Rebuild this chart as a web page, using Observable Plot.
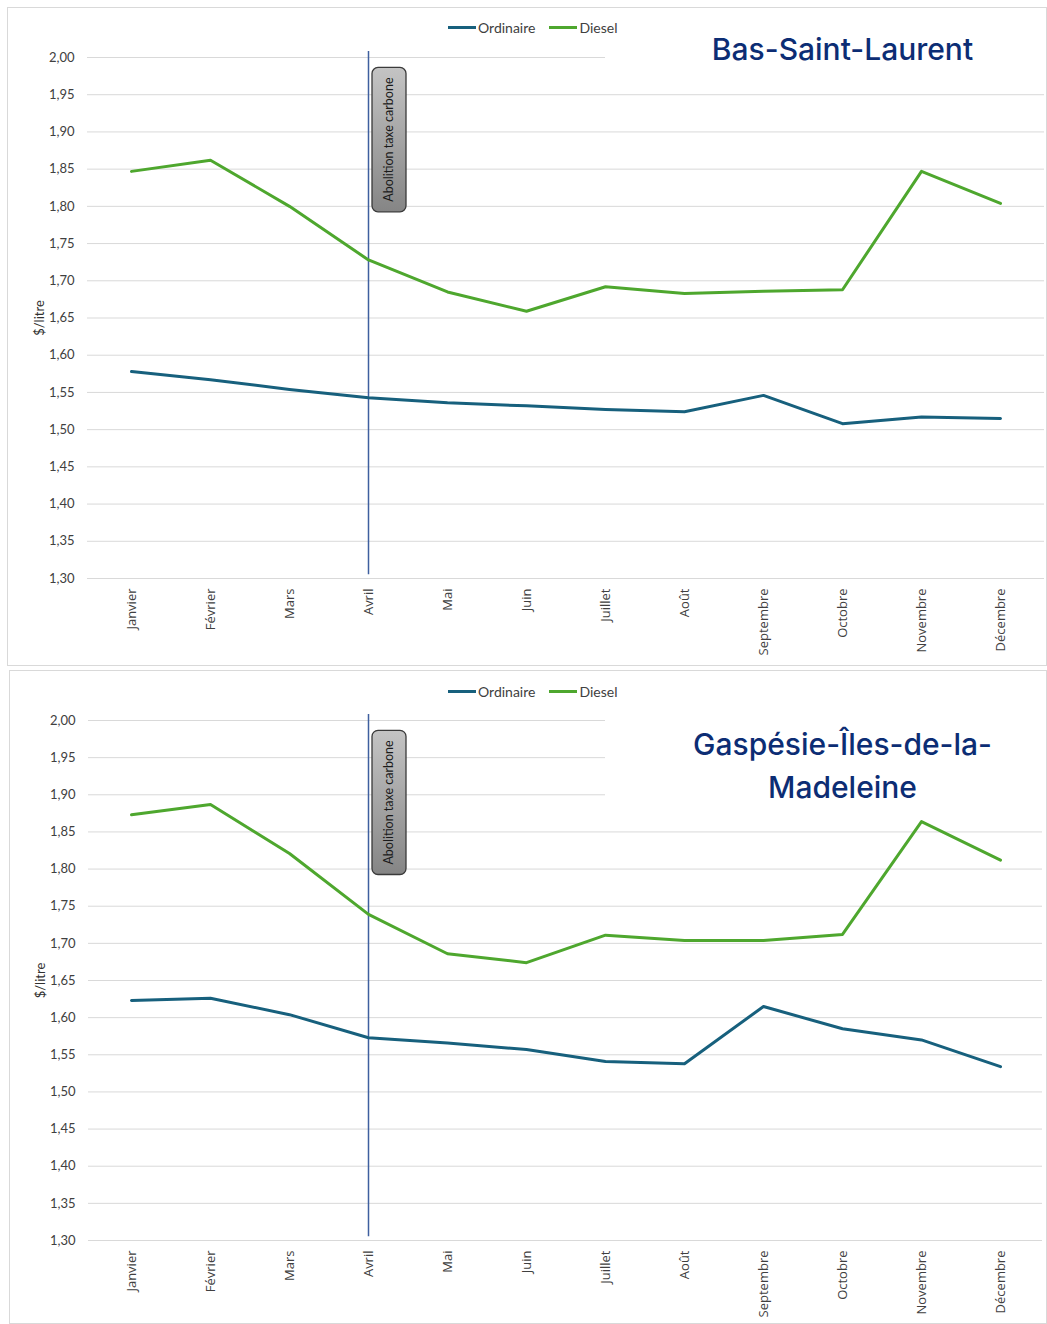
<!DOCTYPE html>
<html>
<head>
<meta charset="utf-8">
<script src="https://cdn.jsdelivr.net/npm/d3@7"></script>
<script src="https://cdn.jsdelivr.net/npm/@observablehq/plot@0.6"></script>
<style>
  html, body { margin: 0; padding: 0; background: #fff; }
  body { width: 1047px; height: 1324px; position: relative; overflow: hidden; font-family: Lato, "Liberation Sans", sans-serif; }
  .panel { position: absolute; border: 1px solid #d9d9d9; box-sizing: border-box; background: #fff; }
  .panel svg { position: absolute; left: 0; top: 0; }
  .title { position: absolute; background: #fff; color: #0c2d74; font-family: Inter, "Noto Sans", sans-serif; font-weight: 500; font-size: 30px; text-align: center; line-height: 43px; box-sizing: content-box; }
  .legend { position: absolute; display: flex; align-items: center; font-family: Lato, sans-serif; font-size: 14px; color: #404040; z-index: 2; }
  .legend .sw { display: inline-block; width: 28px; height: 3px; margin-right: 2px; }
  .legend .item { display: flex; align-items: center; margin-right: 14px; }
</style>
</head>
<body>
<div id="p1" class="panel" style="left:7px;top:7px;width:1040px;height:659px;"></div>
<div id="p2" class="panel" style="left:9px;top:670px;width:1038px;height:654px;"></div>
<script>
const months = ["Janvier","Février","Mars","Avril","Mai","Juin","Juillet","Août","Septembre","Octobre","Novembre","Décembre"];
const seriesNames = ["Ordinaire", "Diesel"];
const seriesColors = ["#17607d", "#4ea72e"];
const yTicks = [1.30,1.35,1.40,1.45,1.50,1.55,1.60,1.65,1.70,1.75,1.80,1.85,1.90,1.95,2.00];
const yDomain = [1.30, 2.00];
const yLabel = "$/litre";

const bslOrdinaire = [1.578,1.567,1.554,1.543,1.536,1.532,1.527,1.524,1.546,1.508,1.517,1.515];
const bslDiesel    = [1.847,1.862,1.800,1.728,1.685,1.659,1.692,1.683,1.686,1.688,1.847,1.804];
const gimOrdinaire = [1.623,1.626,1.604,1.573,1.566,1.557,1.541,1.538,1.615,1.585,1.570,1.534];
const gimDiesel    = [1.873,1.887,1.821,1.739,1.686,1.674,1.711,1.704,1.704,1.712,1.864,1.812];

const eventMonth = "Avril";
const eventLabel = "Abolition taxe carbone";
const eventRuleRange = [2.008, 1.305];
const eventBoxRange = [1.986, 1.792];

const fmt = d => d3.format(".2f")(d).replace(".", ",");

function drawPanel(el, cfg) {
  const data = [];
  months.forEach((m, i) => {
    data.push({month: m, series: seriesNames[0], value: cfg.ordinaire[i]});
    data.push({month: m, series: seriesNames[1], value: cfg.diesel[i]});
  });
  const gid = "grad-" + el.id;
  const boxMark = (index, scales) => {
    const x = scales.x(eventMonth);
    const y1 = scales.y(eventBoxRange[0]);
    const y2 = scales.y(eventBoxRange[1]);
    const g = d3.create("svg:g");
    const defs = g.append("defs");
    const lg = defs.append("linearGradient").attr("id", gid).attr("x1", 0).attr("y1", 0).attr("x2", 0).attr("y2", 1);
    lg.append("stop").attr("offset", "0%").attr("stop-color", "#c4c4c4");
    lg.append("stop").attr("offset", "100%").attr("stop-color", "#858585");
    g.append("rect").attr("x", x + 4).attr("y", y1).attr("width", 34).attr("height", y2 - y1)
      .attr("rx", 6).attr("ry", 6).attr("fill", `url(#${gid})`).attr("stroke", "#3a3a3a").attr("stroke-width", 1.3);
    g.append("text").attr("transform", `translate(${x + 21},${(y1 + y2) / 2}) rotate(-90)`)
      .attr("text-anchor", "middle").attr("dy", "0.35em")
      .attr("font-family", "Lato, sans-serif").attr("font-size", 12.5).attr("fill", "#1a1a1a")
      .text(eventLabel);
    return g.node();
  };
  const plot = Plot.plot({
    width: cfg.width,
    height: cfg.height,
    marginLeft: cfg.ml,
    marginRight: cfg.mr,
    marginTop: cfg.mt,
    marginBottom: cfg.mb,
    style: {fontFamily: "Lato, sans-serif", fontSize: "13px", color: "#404040", background: "transparent", overflow: "visible"},
    x: {domain: months, type: "point", padding: 0.5},
    y: {domain: yDomain},
    color: {domain: seriesNames, range: seriesColors},
    marks: [
      Plot.gridY(yTicks, {stroke: "#d9d9d9", strokeOpacity: 1, strokeWidth: 1}),
      Plot.axisY(yTicks, {tickSize: 0, tickPadding: 13, tickFormat: fmt, label: null, fontSize: 13}),
      Plot.text([yLabel], {frameAnchor: "left", textAnchor: "middle", rotate: -90, dx: -cfg.labelOffset, fontSize: 13, fill: "#303030"}),
      Plot.axisX({tickRotate: -90, tickSize: 0, tickPadding: 10, label: null, fontFamily: "Open Sans, sans-serif", fontSize: 13}),
      Plot.ruleX([eventMonth], {y1: eventRuleRange[0], y2: eventRuleRange[1], stroke: "#3f5f9f", strokeWidth: 1.5}),
      Plot.line(data, {x: "month", y: "value", z: "series", stroke: "series", strokeWidth: 3}),
      boxMark
    ]
  });
  el.appendChild(plot);

  const leg = document.createElement("div");
  leg.className = "legend";
  leg.style.left = cfg.legendLeft + "px";
  leg.style.top = cfg.legendTop + "px";
  seriesNames.forEach((n, i) => {
    const it = document.createElement("div");
    it.className = "item";
    const sw = document.createElement("span");
    sw.className = "sw";
    sw.style.background = seriesColors[i];
    it.appendChild(sw);
    const t = document.createElement("span");
    t.textContent = n;
    it.appendChild(t);
    leg.appendChild(it);
  });
  el.appendChild(leg);

  const title = document.createElement("div");
  title.className = "title";
  title.style.left = cfg.titleLeft + "px";
  title.style.right = "2px";
  title.style.top = cfg.titleTop + "px";
  title.style.paddingTop = cfg.titlePad + "px";
  title.style.paddingLeft = "36px";
  title.style.height = cfg.titleHeight + "px";
  title.innerHTML = cfg.title;
  el.appendChild(title);
}

drawPanel(document.getElementById("p1"), {
  ordinaire: bslOrdinaire, diesel: bslDiesel,
  width: 1038, height: 657, ml: 79, mr: 2, mt: 49, mb: 87, labelOffset: 48,
  legendLeft: 440, legendTop: 11,
  title: "Bas-Saint-Laurent", titleLeft: 597, titleTop: 20, titlePad: 0, titleHeight: 43
});
drawPanel(document.getElementById("p2"), {
  ordinaire: gimOrdinaire, diesel: gimDiesel,
  width: 1036, height: 652, ml: 78, mr: 4, mt: 49, mb: 83, labelOffset: 48,
  legendLeft: 438, legendTop: 12,
  title: "Gaspésie-Îles-de-la-<br>Madeleine", titleLeft: 595, titleTop: 44, titlePad: 8, titleHeight: 86
});
</script>
</body>
</html>
